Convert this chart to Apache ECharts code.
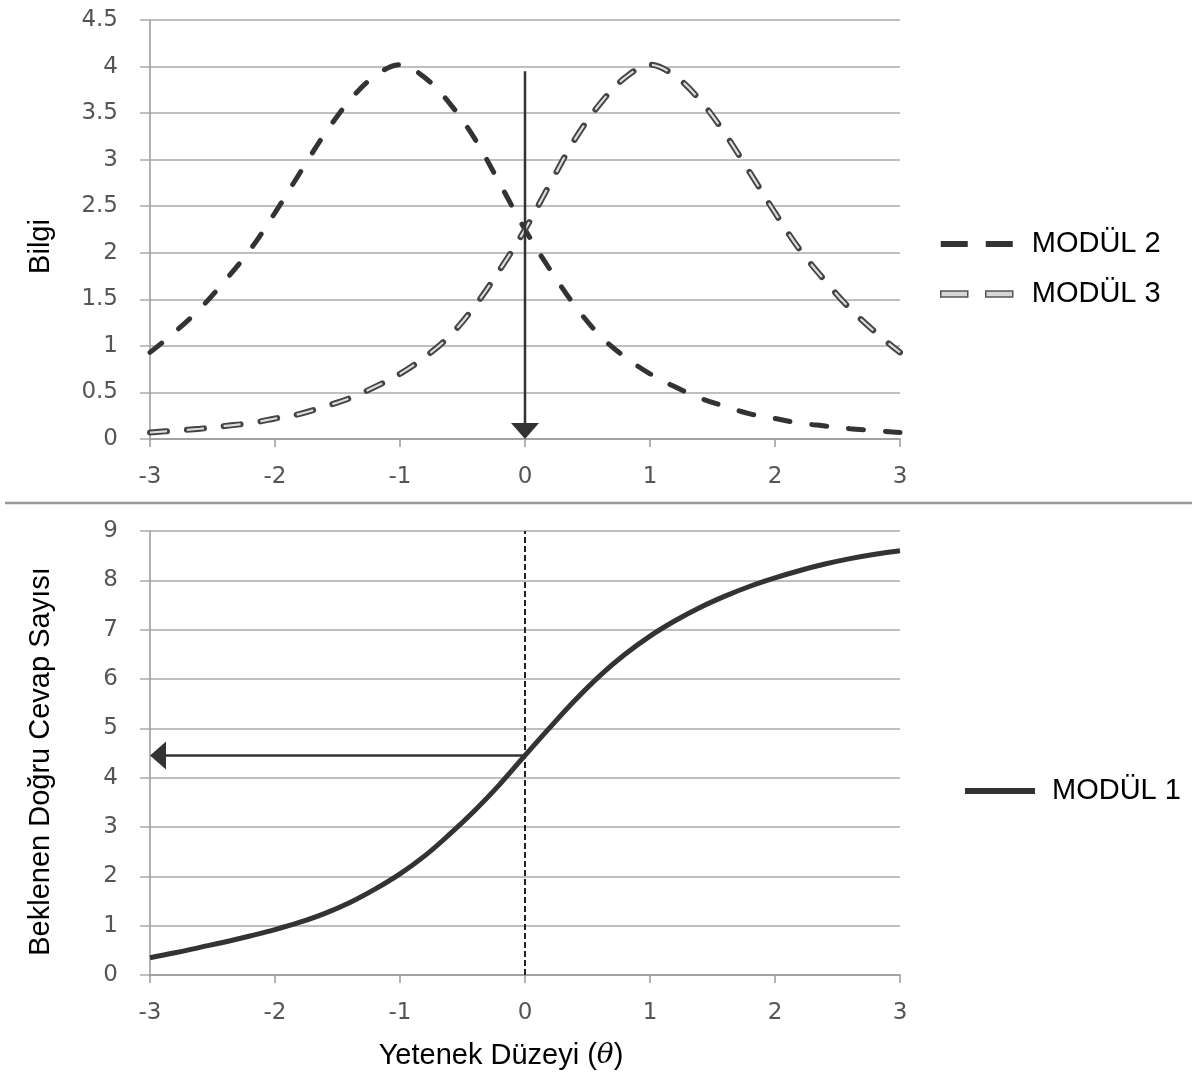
<!DOCTYPE html>
<html>
<head>
<meta charset="utf-8">
<title>Bilgi ve Beklenen Doğru Cevap Sayısı</title>
<script src="https://cdn.jsdelivr.net/npm/echarts@6/dist/echarts.min.js"></script>
<style>
  html, body { margin: 0; padding: 0; background: #fff; }
  #chart { width: 1192px; height: 1080px; }
</style>
</head>
<body>
<div id="chart"></div>
<script>
// Yetenek düzeyleri (θ)
const thetaGrid = [-3.0, -2.8, -2.6, -2.4, -2.2, -2.0, -1.8, -1.6, -1.4, -1.2, -1.0,
                   -0.8, -0.6, -0.4, -0.2, 0.0, 0.2, 0.4, 0.6, 0.8, 1.0,
                   1.2, 1.4, 1.6, 1.8, 2.0, 2.2, 2.4, 2.6, 2.8, 3.0];

// Modül 2 bilgi fonksiyonu
const infoModul2 = [0.93, 1.15, 1.40, 1.70, 2.03, 2.43, 2.86, 3.28, 3.64, 3.90, 4.02,
                    3.88, 3.60, 3.22, 2.74, 2.25, 1.82, 1.43, 1.11, 0.88, 0.70,
                    0.56, 0.44, 0.35, 0.27, 0.22, 0.17, 0.14, 0.11, 0.09, 0.07];

// Modül 3 bilgi fonksiyonu
const infoModul3 = [0.07, 0.09, 0.11, 0.14, 0.17, 0.22, 0.27, 0.35, 0.44, 0.56, 0.70,
                    0.88, 1.11, 1.43, 1.82, 2.25, 2.74, 3.22, 3.60, 3.88, 4.02,
                    3.90, 3.64, 3.28, 2.86, 2.43, 2.03, 1.70, 1.40, 1.15, 0.93];

// Modül 1 test karakteristik eğrisi
const expectedModul1 = [0.35, 0.45, 0.56, 0.67, 0.79, 0.92, 1.07, 1.25, 1.47, 1.74, 2.05,
                        2.42, 2.86, 3.34, 3.87, 4.45, 5.02, 5.57, 6.07, 6.50, 6.87,
                        7.18, 7.45, 7.68, 7.88, 8.05, 8.20, 8.33, 8.44, 8.53, 8.60];

// Okuma okları: θ = 0 noktası
const readTheta = 0;
const arrowTopInfo = 3.95;
const expectedAtTheta = 4.45;

// Eksen aralıkları
const infoAxis = { min: 0, max: 4.5, interval: 0.5 };
const expectedAxis = { min: 0, max: 9, interval: 1 };
const thetaAxis = { min: -3, max: 3, interval: 1 };

const pairs = (ys) => thetaGrid.map((t, i) => [t, ys[i]]);

const tickFont = { fontFamily: 'DejaVu Sans', fontSize: 23, color: '#555' };
const titleFont = { fontFamily: 'Liberation Sans, Arial', fontSize: 29, color: '#000' };
const gridLine = { lineStyle: { color: '#aaa', width: 1.5 } };
const axisLine = { show: true, onZero: false, lineStyle: { color: '#999', width: 1.5 } };

// Ok çizimi: gövde + üçgen uç, eksen ölçeklerinden hesaplanır
function arrowRenderer(params, api) {
  const from = api.coord([api.value(0), api.value(1)]);
  const tip = api.coord([api.value(2), api.value(3)]);
  const dx = tip[0] - from[0], dy = tip[1] - from[1];
  const len = Math.sqrt(dx * dx + dy * dy);
  const ux = dx / len, uy = dy / len;
  const headLen = 16, headHalf = 14;
  const base = [tip[0] - ux * headLen, tip[1] - uy * headLen];
  const nx = -uy, ny = ux;
  return {
    type: 'group',
    children: [
      { type: 'line', shape: { x1: from[0], y1: from[1], x2: base[0], y2: base[1] },
        style: { stroke: '#333', lineWidth: 2.5 } },
      { type: 'polygon', shape: { points: [tip,
          [base[0] + nx * headHalf, base[1] + ny * headHalf],
          [base[0] - nx * headHalf, base[1] - ny * headHalf]] },
        style: { fill: '#333' } }
    ]
  };
}

const chart = echarts.init(document.getElementById('chart'), null, { renderer: 'canvas' });

chart.setOption({
  animation: false,
  backgroundColor: '#fff',
  grid: [
    { left: 150, width: 750, top: 20, height: 419 },
    { left: 150, width: 750, top: 531, height: 444 }
  ],
  xAxis: [
    { gridIndex: 0, type: 'value', min: thetaAxis.min, max: thetaAxis.max, interval: thetaAxis.interval,
      axisLine: axisLine, axisTick: { show: true, length: 8, lineStyle: { color: '#999', width: 1.5 } },
      splitLine: { show: false }, axisLabel: Object.assign({ margin: 27 }, tickFont) },
    { gridIndex: 1, type: 'value', min: thetaAxis.min, max: thetaAxis.max, interval: thetaAxis.interval,
      axisLine: axisLine, axisTick: { show: true, length: 8, lineStyle: { color: '#999', width: 1.5 } },
      splitLine: { show: false }, axisLabel: Object.assign({ margin: 27 }, tickFont),
      name: '{a|Yetenek Düzeyi (}{t|θ}{a|)}', nameLocation: 'middle', nameGap: 66,
      nameTextStyle: {
        padding: [0, 48, 0, 0],
        rich: {
          a: titleFont,
          t: { fontFamily: 'DejaVu Serif', fontStyle: 'italic', fontSize: 28, color: '#000' }
        }
      } }
  ],
  yAxis: [
    { gridIndex: 0, type: 'value', min: infoAxis.min, max: infoAxis.max, interval: infoAxis.interval,
      axisLine: axisLine, axisTick: { show: true, length: 10, lineStyle: { color: '#aaa', width: 1.5 } },
      splitLine: gridLine, axisLabel: Object.assign({ margin: 32 }, tickFont),
      name: 'Bilgi', nameLocation: 'middle', nameGap: 95,
      nameTextStyle: Object.assign({ padding: [0, 34, 0, 0] }, titleFont) },
    { gridIndex: 1, type: 'value', min: expectedAxis.min, max: expectedAxis.max, interval: expectedAxis.interval,
      axisLine: axisLine, axisTick: { show: true, length: 10, lineStyle: { color: '#aaa', width: 1.5 } },
      splitLine: gridLine, axisLabel: Object.assign({ margin: 32 }, tickFont),
      name: 'Beklenen Doğru Cevap Sayısı', nameLocation: 'middle', nameGap: 95,
      nameTextStyle: Object.assign({ padding: [0, 17, 0, 0] }, titleFont) }
  ],
  legend: [
    { orient: 'vertical', left: 935, top: 224, itemWidth: 72, itemHeight: 6, itemGap: 20,
      textStyle: Object.assign({ lineHeight: 30, padding: [0, 0, 0, 14] }, titleFont),
      data: [
        { name: 'MODÜL 2', icon: 'path://M0,0H27V6H0Z M45,0H72V6H45Z',
          itemStyle: { color: '#333', borderWidth: 0 } },
        { name: 'MODÜL 3', icon: 'path://M0,0H27V6H0Z M45,0H72V6H45Z',
          itemStyle: { color: '#d6d6d6', borderColor: '#555', borderWidth: 1.5 } }
      ] },
    { orient: 'vertical', left: 960, top: 771, itemWidth: 70, itemHeight: 6,
      textStyle: Object.assign({ lineHeight: 30, padding: [0, 0, 0, 12] }, titleFont),
      data: [
        { name: 'MODÜL 1', icon: 'path://M0,0H70V6H0Z', itemStyle: { color: '#333', borderWidth: 0 } }
      ] }
  ],
  graphic: [
    { type: 'line', shape: { x1: 5, y1: 503, x2: 1192, y2: 503 },
      style: { stroke: '#999', lineWidth: 2.5 }, silent: true }
  ],
  series: [
    { name: 'MODÜL 2', type: 'line', xAxisIndex: 0, yAxisIndex: 0, data: pairs(infoModul2),
      smooth: 0.35, showSymbol: false, symbol: 'none', z: 3,
      lineStyle: { color: '#333', width: 5, type: [15, 22], cap: 'round' } },
    { name: 'MODÜL 3', type: 'line', xAxisIndex: 0, yAxisIndex: 0, data: pairs(infoModul3),
      smooth: 0.35, showSymbol: false, symbol: 'none', z: 3,
      lineStyle: { color: '#444', width: 6, type: [17, 20], cap: 'round' } },
    { name: 'MODÜL 3 iç', type: 'line', xAxisIndex: 0, yAxisIndex: 0, data: pairs(infoModul3),
      smooth: 0.35, showSymbol: false, symbol: 'none', z: 4,
      lineStyle: { color: '#dcdcdc', width: 2.2, type: [17, 20], cap: 'butt' } },
    { name: 'θ çizgisi', type: 'line', xAxisIndex: 1, yAxisIndex: 1,
      data: [[readTheta, expectedAxis.min], [readTheta, expectedAxis.max]],
      showSymbol: false, symbol: 'none', z: 2,
      lineStyle: { color: '#222', width: 2, type: [6, 3] } },
    { name: 'MODÜL 1', type: 'line', xAxisIndex: 1, yAxisIndex: 1, data: pairs(expectedModul1),
      smooth: 0.4, showSymbol: false, symbol: 'none', z: 3,
      lineStyle: { color: '#333', width: 5 } },
    { name: 'bilgi oku', type: 'custom', xAxisIndex: 0, yAxisIndex: 0, z: 5, clip: false,
      data: [[readTheta, arrowTopInfo, readTheta, infoAxis.min]], renderItem: arrowRenderer },
    { name: 'puan oku', type: 'custom', xAxisIndex: 1, yAxisIndex: 1, z: 5, clip: false,
      data: [[readTheta, expectedAtTheta, thetaAxis.min, expectedAtTheta]], renderItem: arrowRenderer }
  ]
});
</script>
</body>
</html>
